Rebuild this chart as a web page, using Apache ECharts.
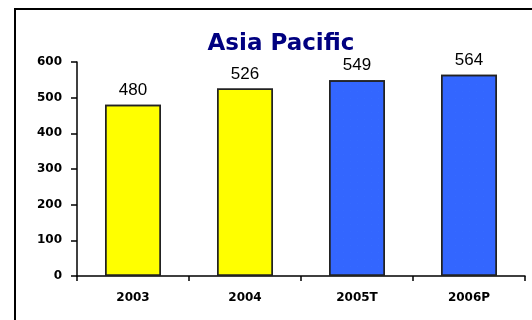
<!DOCTYPE html>
<html><head><meta charset="utf-8">
<script src="https://cdn.jsdelivr.net/npm/echarts@6/dist/echarts.min.js"></script>
<style>html,body{margin:0;padding:0;background:#fff}#c{width:532px;height:320px}</style>
</head><body><div id="c"></div>
<script>
const categories = ['2003', '2004', '2005T', '2006P'];
const values = [480, 526, 549, 564];
const yTicks = [0, 100, 200, 300, 400, 500, 600];
const titleText = 'Asia Pacific';

const chart = echarts.init(document.getElementById('c'), null, {renderer: 'canvas'});
const yellow = '#FFFF00', blue = '#3366FF';
chart.setOption({
  animation: false,
  backgroundColor: '#fff',
  aria: {enabled: true, decal: {show: true}},
  title: {
    text: titleText, left: 276, top: 28, textAlign: 'center',
    textStyle: {color: '#000080', fontSize: 23, fontWeight: 'bold', fontFamily: 'DejaVu Sans'}
  },
  graphic: [{
    type: 'rect', shape: {x: 15, y: 9, width: 600, height: 400},
    style: {fill: 'none', stroke: '#000', lineWidth: 2}, z: 100
  }],
  grid: {left: 77, right: 7, top: 62, bottom: 44, containLabel: false},
  xAxis: {
    type: 'category', data: categories,
    axisLine: {lineStyle: {color: '#000', width: 1.5}},
    axisTick: {show: true, length: 5, lineStyle: {color: '#000', width: 1.5}},
    axisLabel: {margin: 16, color: '#000', fontSize: 12, fontWeight: 'bold', fontFamily: 'DejaVu Sans'}
  },
  yAxis: {
    type: 'value', min: yTicks[0], max: yTicks[yTicks.length - 1], interval: 100,
    splitLine: {show: false},
    axisLine: {show: true, lineStyle: {color: '#000', width: 1.5}},
    axisTick: {show: true, length: 6, lineStyle: {color: '#000', width: 1.5}},
    axisLabel: {margin: 15, color: '#000', fontSize: 12, fontWeight: 'bold', fontFamily: 'DejaVu Sans'}
  },
  series: [{
    type: 'bar', barWidth: '50%',
    data: values.map((v, i) => ({
      value: v,
      itemStyle: i < 2 ? {color: yellow, decal: {symbol: 'rect', color: 'rgba(0,0,0,0)'}} : {
        color: blue,
        decal: {symbol: 'circle', symbolSize: 0.3, color: '#66a8ff', dashArrayX: [[1, 6]], dashArrayY: [1, 6], rotation: 0}
      }
    })),
    itemStyle: {borderColor: '#222', borderWidth: 1.5},
    label: {show: true, position: 'top', distance: 6, color: '#000', fontSize: 17, fontFamily: 'Liberation Sans'}
  }]
});
</script></body></html>
